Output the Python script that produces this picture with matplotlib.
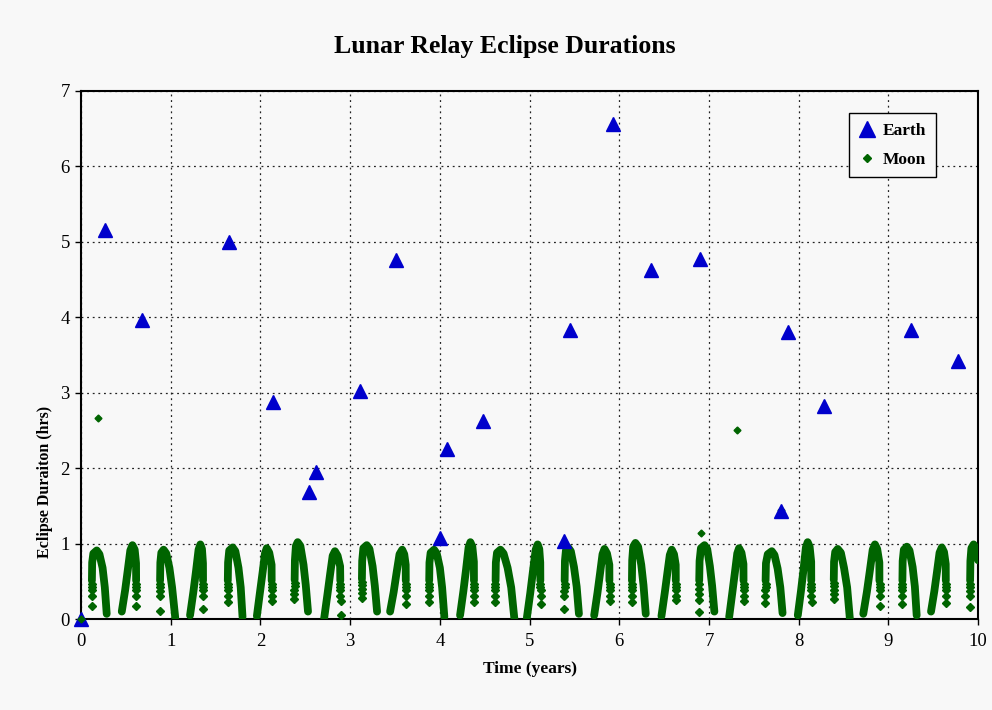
import matplotlib
matplotlib.use("Agg")
import matplotlib.pyplot as plt
from matplotlib.lines import Line2D

plt.rcParams['font.family'] = ['Liberation Serif', 'DejaVu Serif']

# ---------------- Earth eclipses (time in years, duration in hours) ----------------
earth_t = [0.00, 0.27, 0.68, 1.65, 2.14, 2.54, 2.62, 3.11, 3.51, 4.00, 4.08,
           4.48, 5.38, 5.45, 5.93, 6.35, 6.90, 7.80, 7.88, 8.28, 9.25, 9.78]
earth_y = [0.00, 5.15, 3.97, 5.00, 2.88, 1.68, 1.95, 3.02, 4.76, 1.07, 2.25,
           2.63, 1.03, 3.83, 6.56, 4.62, 4.77, 1.43, 3.81, 2.82, 3.83, 3.42]

# ---------------- Moon eclipses ----------------
# isolated long moon eclipses
moon_extra_t = [0.00, 0.19, 6.91, 7.31, 7.80]
moon_extra_y = [0.00, 2.66, 1.14, 2.51, 1.45]

# dense eclipse seasons: each season is a continuous track (t, hrs)
season01 = [(0.121, 0.51), (0.124, 0.75), (0.137, 0.87), (0.175, 0.91), (0.205, 0.86), (0.240, 0.68), (0.265, 0.42), (0.286, 0.07)]
season02 = [(0.454, 0.10), (0.491, 0.38), (0.521, 0.65), (0.549, 0.91), (0.573, 0.98), (0.598, 0.92), (0.613, 0.74), (0.614, 0.51)]
season03 = [(0.881, 0.51), (0.884, 0.75), (0.895, 0.88), (0.920, 0.92), (0.950, 0.87), (0.985, 0.68), (1.015, 0.42), (1.050, 0.02)]
season04 = [(1.215, 0.05), (1.252, 0.36), (1.282, 0.64), (1.310, 0.92), (1.330, 0.99), (1.348, 0.93), (1.359, 0.74), (1.360, 0.51)]
season05 = [(1.636, 0.51), (1.639, 0.75), (1.652, 0.91), (1.690, 0.95), (1.720, 0.90), (1.755, 0.68), (1.780, 0.42), (1.800, 0.03)]
season06 = [(1.960, 0.04), (1.995, 0.36), (2.025, 0.63), (2.050, 0.87), (2.070, 0.94), (2.098, 0.88), (2.124, 0.72), (2.125, 0.51)]
season07 = [(2.381, 0.52), (2.384, 0.78), (2.395, 0.97), (2.415, 1.02), (2.445, 0.97), (2.480, 0.72), (2.505, 0.45), (2.530, 0.10)]
season08 = [(2.710, 0.01), (2.747, 0.33), (2.777, 0.60), (2.805, 0.84), (2.830, 0.90), (2.860, 0.84), (2.888, 0.70), (2.890, 0.51)]
season09 = [(3.131, 0.53), (3.134, 0.77), (3.147, 0.94), (3.185, 0.98), (3.215, 0.93), (3.250, 0.70), (3.275, 0.44), (3.300, 0.10)]
season10 = [(3.445, 0.10), (3.485, 0.36), (3.518, 0.62), (3.550, 0.86), (3.580, 0.92), (3.603, 0.86), (3.619, 0.72), (3.620, 0.51)]
season11 = [(3.881, 0.51), (3.884, 0.75), (3.897, 0.88), (3.935, 0.92), (3.965, 0.87), (4.000, 0.68), (4.025, 0.42), (4.050, 0.03)]
season12 = [(4.225, 0.05), (4.262, 0.37), (4.292, 0.66), (4.320, 0.95), (4.340, 1.02), (4.362, 0.96), (4.379, 0.76), (4.380, 0.51)]
season13 = [(4.621, 0.51), (4.624, 0.75), (4.637, 0.88), (4.675, 0.92), (4.710, 0.87), (4.755, 0.68), (4.795, 0.42), (4.830, 0.01)]
season14 = [(4.970, 0.02), (5.007, 0.34), (5.037, 0.63), (5.068, 0.92), (5.090, 0.99), (5.108, 0.93), (5.119, 0.75), (5.120, 0.51)]
season15 = [(5.391, 0.51), (5.394, 0.77), (5.405, 0.91), (5.430, 0.95), (5.460, 0.90), (5.495, 0.69), (5.525, 0.43), (5.550, 0.07)]
season16 = [(5.720, 0.05), (5.757, 0.35), (5.787, 0.62), (5.813, 0.86), (5.835, 0.93), (5.863, 0.87), (5.889, 0.72), (5.890, 0.51)]
season17 = [(6.141, 0.51), (6.144, 0.78), (6.155, 0.96), (6.180, 1.01), (6.210, 0.96), (6.245, 0.72), (6.270, 0.45), (6.295, 0.07)]
season18 = [(6.470, 0.04), (6.507, 0.35), (6.537, 0.62), (6.563, 0.85), (6.585, 0.92), (6.610, 0.86), (6.629, 0.72), (6.630, 0.51)]
season19 = [(6.891, 0.51), (6.895, 0.77), (6.910, 0.94), (6.950, 0.98), (6.980, 0.93), (7.010, 0.70), (7.035, 0.44), (7.060, 0.10)]
season20 = [(7.225, 0.03), (7.260, 0.35), (7.290, 0.63), (7.315, 0.87), (7.335, 0.94), (7.362, 0.88), (7.384, 0.73), (7.385, 0.51)]
season21 = [(7.631, 0.51), (7.635, 0.74), (7.655, 0.86), (7.700, 0.90), (7.730, 0.85), (7.765, 0.67), (7.795, 0.42), (7.820, 0.08)]
season22 = [(7.990, 0.05), (8.025, 0.37), (8.055, 0.67), (8.080, 0.95), (8.100, 1.02), (8.122, 0.96), (8.139, 0.76), (8.140, 0.51)]
season23 = [(8.391, 0.52), (8.394, 0.76), (8.407, 0.89), (8.435, 0.93), (8.470, 0.88), (8.505, 0.68), (8.540, 0.42), (8.570, 0.01)]
season24 = [(8.720, 0.07), (8.760, 0.36), (8.793, 0.64), (8.825, 0.92), (8.850, 0.99), (8.875, 0.93), (8.899, 0.75), (8.900, 0.51)]
season25 = [(9.156, 0.51), (9.159, 0.77), (9.172, 0.92), (9.205, 0.96), (9.235, 0.91), (9.270, 0.69), (9.295, 0.43), (9.315, 0.05)]
season26 = [(9.475, 0.10), (9.512, 0.37), (9.542, 0.63), (9.570, 0.88), (9.595, 0.95), (9.620, 0.89), (9.639, 0.73), (9.640, 0.51)]
season27 = [(9.911, 0.51), (9.914, 0.77), (9.925, 0.94), (9.950, 0.99), (9.975, 0.94), (9.990, 0.84), (10.000, 0.78)]

# sparse points at the start/end of each season (t, hrs)
sparse01 = [(0.118, 0.17), (0.119, 0.31), (0.119, 0.38), (0.120, 0.43), (0.120, 0.47)]
sparse02 = [(0.615, 0.47), (0.615, 0.43), (0.616, 0.38), (0.616, 0.31), (0.617, 0.17)]
sparse03 = [(0.878, 0.11), (0.879, 0.30), (0.879, 0.37), (0.880, 0.42), (0.880, 0.47)]
sparse04 = [(1.361, 0.47), (1.361, 0.43), (1.362, 0.38), (1.362, 0.31), (1.363, 0.13)]
sparse05 = [(1.633, 0.23), (1.634, 0.31), (1.634, 0.38), (1.635, 0.43), (1.635, 0.47)]
sparse06 = [(2.126, 0.47), (2.126, 0.43), (2.127, 0.38), (2.127, 0.31), (2.128, 0.24)]
sparse07 = [(2.378, 0.26), (2.379, 0.33), (2.379, 0.39), (2.380, 0.44), (2.380, 0.48)]
sparse08 = [(2.891, 0.47), (2.891, 0.43), (2.892, 0.38), (2.892, 0.31), (2.893, 0.24), (2.893, 0.05)]
sparse09 = [(3.128, 0.28), (3.129, 0.34), (3.129, 0.40), (3.130, 0.45), (3.130, 0.49)]
sparse10 = [(3.621, 0.47), (3.621, 0.43), (3.622, 0.38), (3.622, 0.31), (3.623, 0.20)]
sparse11 = [(3.878, 0.23), (3.879, 0.31), (3.879, 0.38), (3.880, 0.43), (3.880, 0.47)]
sparse12 = [(4.381, 0.47), (4.381, 0.43), (4.382, 0.38), (4.382, 0.31), (4.383, 0.23)]
sparse13 = [(4.618, 0.23), (4.619, 0.31), (4.619, 0.38), (4.620, 0.43), (4.620, 0.47)]
sparse14 = [(5.121, 0.47), (5.121, 0.43), (5.122, 0.38), (5.122, 0.31), (5.123, 0.20)]
sparse15 = [(5.388, 0.13), (5.389, 0.30), (5.389, 0.37), (5.390, 0.42), (5.390, 0.47)]
sparse16 = [(5.891, 0.47), (5.891, 0.43), (5.892, 0.38), (5.892, 0.31), (5.893, 0.24)]
sparse17 = [(6.138, 0.23), (6.139, 0.31), (6.139, 0.38), (6.140, 0.43), (6.140, 0.47)]
sparse18 = [(6.631, 0.47), (6.631, 0.43), (6.632, 0.38), (6.632, 0.31), (6.633, 0.25)]
sparse19 = [(6.888, 0.10), (6.889, 0.25), (6.889, 0.33), (6.890, 0.40), (6.890, 0.46)]
sparse20 = [(7.386, 0.47), (7.386, 0.43), (7.387, 0.38), (7.387, 0.31), (7.388, 0.24)]
sparse21 = [(7.628, 0.22), (7.629, 0.31), (7.629, 0.38), (7.630, 0.43), (7.630, 0.47)]
sparse22 = [(8.141, 0.47), (8.141, 0.43), (8.142, 0.38), (8.142, 0.31), (8.143, 0.23)]
sparse23 = [(8.388, 0.26), (8.389, 0.33), (8.389, 0.39), (8.390, 0.44), (8.390, 0.48)]
sparse24 = [(8.901, 0.47), (8.901, 0.43), (8.902, 0.38), (8.902, 0.31), (8.903, 0.17)]
sparse25 = [(9.153, 0.20), (9.154, 0.31), (9.154, 0.38), (9.155, 0.43), (9.155, 0.47)]
sparse26 = [(9.641, 0.47), (9.641, 0.43), (9.642, 0.38), (9.642, 0.31), (9.643, 0.21)]
sparse27 = [(9.908, 0.16), (9.909, 0.30), (9.909, 0.37), (9.910, 0.42), (9.910, 0.47)]

seasons = [season01, season02, season03, season04, season05, season06, season07,
           season08, season09, season10, season11, season12, season13, season14,
           season15, season16, season17, season18, season19, season20, season21,
           season22, season23, season24, season25, season26, season27]
sparse = [sparse01, sparse02, sparse03, sparse04, sparse05, sparse06, sparse07,
          sparse08, sparse09, sparse10, sparse11, sparse12, sparse13, sparse14,
          sparse15, sparse16, sparse17, sparse18, sparse19, sparse20, sparse21,
          sparse22, sparse23, sparse24, sparse25, sparse26, sparse27]

x_ticks = list(range(0, 11))
y_ticks = list(range(0, 8))

EARTH_C = '#0000CC'
MOON_C = '#006400'
BG = '#F8F8F8'

fig = plt.figure(figsize=(9.92, 7.10), dpi=100, facecolor=BG)
ax = fig.add_axes([0.0817, 0.128, 0.9043, 0.744], facecolor=BG)

# moon seasons as dense bands
for track in seasons:
    tx = [p[0] for p in track]
    ty = [p[1] for p in track]
    ax.plot(tx, ty, color=MOON_C, lw=5.6, solid_capstyle='round',
            solid_joinstyle='round', zorder=3)
for pts in sparse:
    ax.plot([p[0] for p in pts], [p[1] for p in pts], linestyle='none',
            marker='D', ms=3.7, color=MOON_C, mec=MOON_C, zorder=3)
ax.plot(moon_extra_t, moon_extra_y, linestyle='none', marker='D', ms=3.5,
        color=MOON_C, mec=MOON_C, zorder=3)

# earth eclipses
ax.plot(earth_t, earth_y, linestyle='none', marker='^', ms=10,
        color=EARTH_C, mec=EARTH_C, zorder=4, clip_on=False)
ax.plot([0.00], [0.00], linestyle='none', marker='D', ms=3.5, color=MOON_C,
        zorder=5, clip_on=False)

ax.set_xlim(0, 10)
ax.set_ylim(0, 7)
ax.set_xticks(x_ticks)
ax.set_yticks(y_ticks)
ax.tick_params(axis='both', direction='out', length=4, width=1,
               labelsize=13.5, colors='black')
ax.tick_params(axis='y', pad=4)
ax.tick_params(axis='x', pad=6)
ax.grid(True, color='#222222', linestyle=(0, (1.5, 3)), linewidth=0.9)
ax.set_axisbelow(True)
for side in ax.spines.values():
    side.set_linewidth(1.5)
    side.set_color('black')

fig.text(505 / 992, 1 - 46 / 710, 'Lunar Relay Eclipse Durations', fontsize=18.5,
         fontweight='bold', ha='center', va='center')
ax.set_xlabel('Time (years)', fontsize=12.5, fontweight='bold', labelpad=8)
fig.text(45 / 992, 1 - 482 / 710, 'Eclipse Duraiton (hrs)', fontsize=11.5,
         fontweight='bold', rotation=90, ha='center', va='center')

handles = [
    Line2D([], [], linestyle='none', marker='^', ms=11, color=EARTH_C),
    Line2D([], [], linestyle='none', marker='D', ms=4, color=MOON_C),
]
leg = ax.legend(handles, ['Earth', 'Moon'], loc='upper right',
                bbox_to_anchor=(0.953, 0.958), prop={'weight': 'bold', 'size': 12.5},
                frameon=True, fancybox=False, framealpha=1, edgecolor='black',
                facecolor=BG, handlelength=1.0, handletextpad=0.4,
                borderpad=0.55, labelspacing=0.75, borderaxespad=0)
leg.get_frame().set_linewidth(1.0)

fig.savefig('out.png', dpi=100, facecolor=BG)
